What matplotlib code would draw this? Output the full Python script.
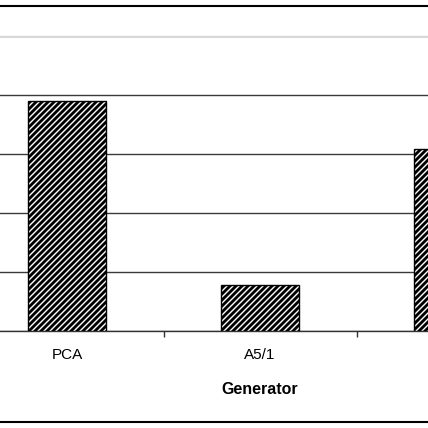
import matplotlib
matplotlib.use("Agg")
import matplotlib.pyplot as plt
from matplotlib.patches import Rectangle

categories = ["PCA", "A5/1", "W7"]
values = [3.90, 0.78, 3.09]
y_ticks = [0, 1, 2, 3, 4, 5]

DPI = 108
k = 100 / DPI  # keep point sizes as designed for 100 dpi

plt.rcParams['font.family'] = ['Liberation Sans', 'DejaVu Sans']
plt.rcParams['hatch.linewidth'] = 1.9
plt.rcParams['hatch.color'] = 'black'

W = H = 428
fig = plt.figure(figsize=(W / DPI, H / DPI), dpi=DPI)
# axes spans full width; bottom at 331px, top at 36px
ax = fig.add_axes([0, (H - 331) / H, 1, (331 - 36) / H])

xs = list(range(len(categories)))
ax.bar(xs, values, width=0.405, color='white', edgecolor='black',
       linewidth=1.0 * k, hatch='//////', zorder=3)

ax.set_yticks(y_ticks)
ax.yaxis.grid(True, color='#3a3a3a', linewidth=1.0 * k, zorder=0)
ax.tick_params(axis='y', left=False, labelleft=False)

# category boundaries as major ticks, labels as minor ticks at centers
ax.set_xticks([x + 0.5 for x in xs[:-1]])
ax.set_xticklabels([])
ax.set_xticks(xs, minor=True)
ax.set_xticklabels(categories, minor=True, fontsize=11 * k)
ax.tick_params(axis='x', which='major', direction='out', length=4.3 * k,
               width=1.0 * k, color='#333333')
ax.tick_params(axis='x', which='minor', length=0, pad=12.5 * k)

# pixel mapping: category 0 at 67px, spacing 193px (set after ticks)
ax.set_xlim(-67 / 193, (428 - 67) / 193)
ax.set_ylim(0, 5)

for s in ['left', 'right']:
    ax.spines[s].set_visible(False)
ax.spines['top'].set_color('#d8d8d8')
ax.spines['top'].set_linewidth(1.0 * k)
ax.spines['bottom'].set_color('#333333')
ax.spines['bottom'].set_linewidth(1.0 * k)

ax.set_xlabel("Generator", fontsize=11.5 * k, fontweight='bold')
ax.xaxis.label.set_va('center')
ax.xaxis.set_label_coords(1, (331 - 389.5) / 295, transform=ax.get_xaxis_transform())

# outer chart frame (top and bottom edges visible)
fig.add_artist(Rectangle((-0.05, (H - 421.7) / H), 1.1, (421.7 - 6.3) / H,
                         fill=False, edgecolor='black', linewidth=1.5 * k,
                         transform=fig.transFigure))

fig.savefig("out.png", dpi=DPI)
